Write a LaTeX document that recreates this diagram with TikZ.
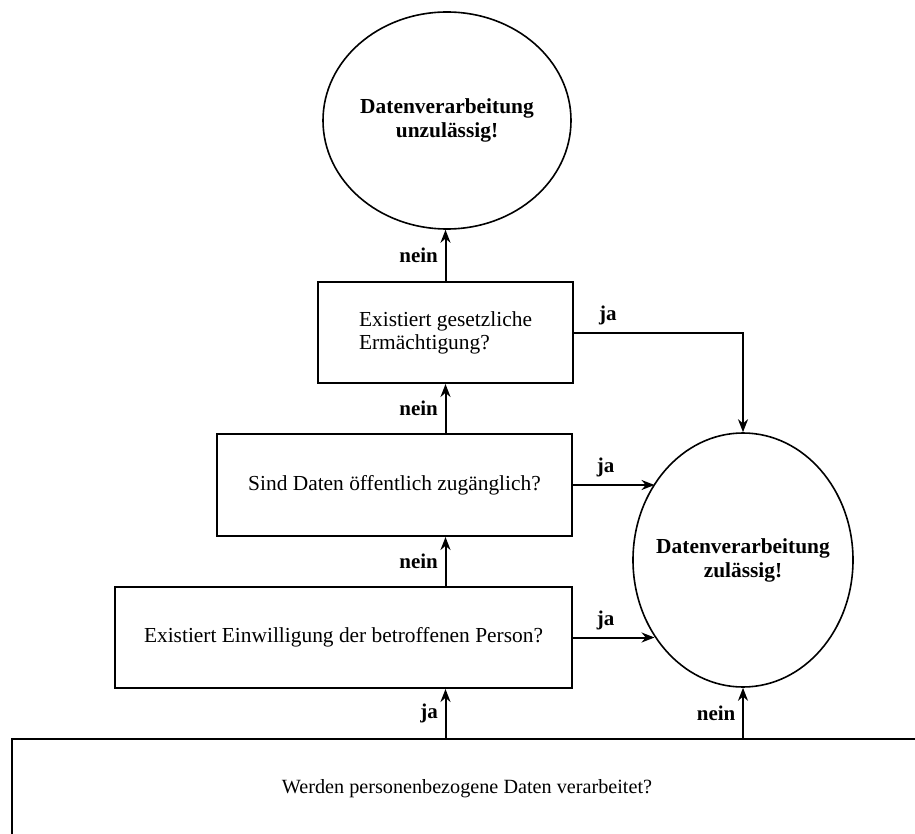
\documentclass[tikz,border=0pt]{standalone}
\usepackage{fontspec}
\setmainfont{Liberation Serif}
\usetikzlibrary{shapes.geometric, arrows, arrows.meta}
\tikzstyle{question} = [rectangle, text centered, draw=black, line width=1pt, fill=white, inner sep=0pt, font=\fontsize{10.7}{11.5}\selectfont]
\tikzstyle{result} = [ellipse, align=center, draw=black, line width=0.8pt, fill=white, inner sep=0pt, inner xsep=-5pt, font=\fontsize{10.7}{12}\selectfont\bfseries]
\tikzstyle{answer} = [font=\fontsize{10.5}{12}\selectfont\bfseries]
\tikzstyle{arrow} = [line width=1pt,->,>={Stealth[length=6.5pt, width=5pt]}]

\begin{document}
\begin{tikzpicture}[x=0.5pt, y=-0.5pt]
		\useasboundingbox (0,0) rectangle (915,834);
		\clip (0,0) rectangle (915,834);
		\node (end2) [result, minimum width=124pt, minimum height=108.5pt] at (447,120.5) {Datenverarbeitung\\unzulässig!};
		\node (dec3) [question, align=left, minimum width=127.5pt, minimum height=50.5pt] at (445.5,332.5) {Existiert gesetzliche\\Ermächtigung?};
		\node (dec2) [question, minimum width=177.5pt, minimum height=51pt] at (394.5,485) {Sind Daten öffentlich zugänglich?};
		\node (dec1) [question, minimum width=228.5pt, minimum height=50.5pt] at (343.5,637.5) {Existiert Einwilligung der betroffenen Person?};
		\node (end1) [result, minimum width=110pt, minimum height=127pt] at (743,560) {Datenverarbeitung\\zulässig!};
		\node (dec0) [question, font=\fontsize{10.1}{12}\selectfont, minimum width=455pt, minimum height=49.5pt] at (467,788.5) {Werden personenbezogene Daten verarbeitet?};
		
		\draw [arrow] (dec0.north -| dec3.north) -- node [answer, anchor=east] {ja} (dec1.south -| dec3.north);
		\draw [arrow] (dec0.north -| end1.south) -- node [answer, anchor=east] {nein} (end1.south);
		\draw [arrow] (dec1.north -| dec3.north) -- node [answer, anchor=east] {nein} (dec2.south -| dec3.north);
		\draw [arrow] (dec2.north -| dec3.north) -- node [answer, anchor=east] {nein} (dec3.south);
		\draw [arrow] (dec3.north) -- node [answer, anchor=east] {nein} (dec3.north |- end2.south);
		\draw [arrow] (dec1.east) -- node [answer, anchor=south, pos=0.4] {ja} (dec1.east -| end1.221.6);
		\draw [arrow] (dec2.east) -- node [answer, anchor=south, pos=0.4] {ja} (dec2.east -| end1.139.8);
		\draw [arrow] (dec3.east) -| node [answer, anchor=south, pos=0.1] {ja} (end1.north);
		\end{tikzpicture}
\end{document}
